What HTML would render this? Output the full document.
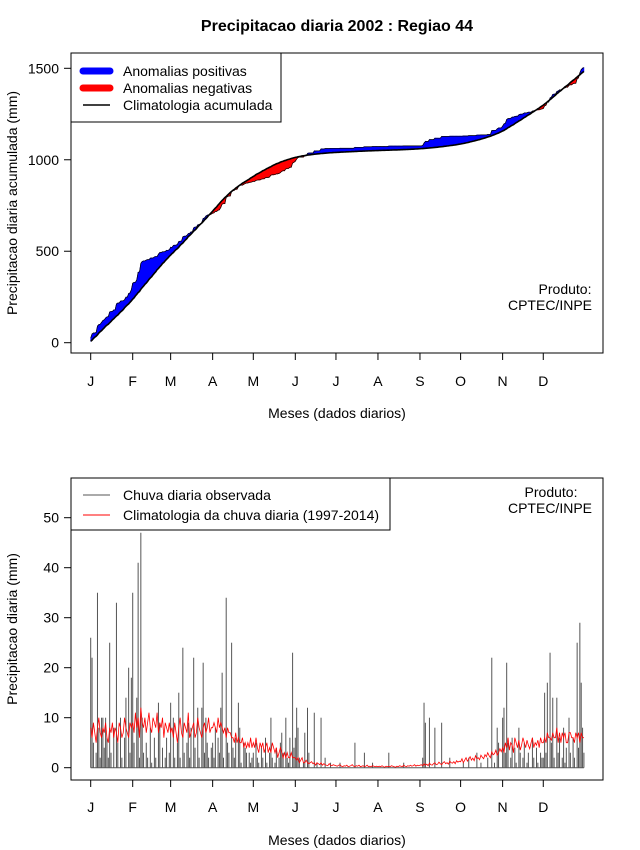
<!DOCTYPE html>
<html><head><meta charset="utf-8"><style>
body{margin:0;background:#fff}
svg{display:block;font-family:"Liberation Sans",sans-serif}
</style></head><body>
<svg id="c" width="640" height="850" viewBox="0 0 640 850" xmlns="http://www.w3.org/2000/svg">
<text x="337" y="31" text-anchor="middle" font-size="16" font-weight="bold">Precipitacao diaria 2002 : Regiao 44</text>
<g id="topPanel"></g>
<g id="botPanel"></g>
</svg>
<script>
const months = ["J","F","M","A","M","J","J","A","S","O","N","D"];
const monthStart = [0,31,59,90,120,151,181,212,243,273,304,334];
const topTicks = [0,500,1000,1500];
const botTicks = [0,10,20,30,40,50];
const obsJan = [26,22,5,0,3,35,8,2,10,10,4,10,6,2,25,3,0,8,0,33,5,0,10,2,0,6,14,0,20,3,18];
const obsFeb = [35,5,0,14,41,2,47,10,3,0,5,2,0,8,1,0,6,2,0,13,9,0,4,0,2,6,0,3];
const obsMar = [13,0,10,2,0,5,15,2,0,24,3,0,5,9,2,8,0,22,4,0,12,2,0,12,21,3,10,5,2,0,4];
const obsApr = [5,2,8,0,6,3,12,19,2,0,34,5,3,0,25,4,2,6,0,13,8,1,0,5,4,3,0,3,1,2];
const obsMay = [3,0,5,2,1,0,4,2,0,6,1,0,3,10,2,0,1,4,0,2,5,7,3,0,10,2,1,6,0,23,4];
const obsJun = [6,12,8,2,0,0,1,7,0,12,3,0,0,0,11,0,1,0,0,10,0,0,2,0,0,0,1,0,0,0];
const obsJul = [0,0,0,1,0,0,0,0,0,0,0,0,0,0,5,0,0,0,0,0,0,3,0,0,0,0,0,1,0,0,0];
const obsAug = [0,0,0,0,0,0,0,0,3,0,0,0,0,0,0,0,0,0,0,1,0,0,0,0,0,0,0,0,0,0,0];
const obsSep = [0,0,2,13,9,0,0,10,0,0,0,8,0,0,0,0,9,0,0,0,0,0,2,0,0,0,0,0,0,0];
const obsOct = [0,0,1,0,0,0,2,0,0,0,0,0,3,0,0,1,0,0,0,0,2,0,0,22,0,1,0,8,5,0,0];
const obsNov = [10,12,3,21,5,0,2,6,0,4,1,0,8,3,0,2,5,0,1,3,0,0,6,2,0,4,1,0,3,2];
const obsDec = [2,15,3,17,0,23,5,14,2,0,14,3,6,0,2,8,1,4,0,10,3,0,6,2,0,25,4,29,17,8,3];
const climJan = [8,6,9,7,5,8,10,7,6,8,7,9,6,5,8,7,9,6,8,7,5,9,8,6,7,10,8,7,6,9,8];
const climFeb = [9,7,11,8,10,6,12,9,8,10,7,9,11,8,7,10,9,8,11,7,9,8,10,6,9,8,7,9];
const climMar = [7,8,6,9,7,5,8,10,7,6,9,8,7,11,6,7,8,9,6,7,10,8,7,6,8,9,7,8,10,7,8];
const climApr = [8,9,8,7,10,8,9,8,7,8,6,8,7,7,6,6,5,7,5,6,5,5,6,4,5,4,5,4,6,4];
const climMay = [5,4,6,4,3,5,4,5,3,4,5,3,4,3,5,4,3,4,2,3,4,3,2,3,2,3,2,2,3,2,2];
const climJun = [2,1.5,2,1,1.5,2,1,1,1.5,1,0.8,1,1.2,0.8,1,0.5,1,0.8,0.6,1,0.5,0.8,0.6,0.5,0.4,0.8,0.5,0.4,0.6,0.5];
const climJul = [0.4,0.3,0.5,0.6,0.3,0.2,0.4,0.3,0.5,0.2,0.3,0.4,0.6,0.3,0.2,0.4,0.3,0.5,0.2,0.3,0.4,0.2,0.3,0.5,0.2,0.3,0.2,0.4,0.3,0.2,0.3];
const climAug = [0.2,0.3,0.2,0.4,0.2,0.1,0.3,0.2,0.3,0.2,0.4,0.3,0.2,0.1,0.3,0.2,0.4,0.3,0.2,0.5,0.3,0.2,0.4,0.3,0.5,0.3,0.4,0.6,0.3,0.5,0.4];
const climSep = [0.5,0.6,0.4,0.8,0.5,0.7,0.4,0.9,0.6,0.5,0.8,1,0.6,0.7,1.1,0.8,0.6,1,1.2,0.8,1,0.7,1.3,1,0.9,1.2,0.8,1.4,1.1,1.3];
const climOct = [1.2,1.8,1,1.5,2,1.3,1.7,2.2,1.5,1.9,1.4,2.4,1.8,2,1.6,2.5,2.1,1.8,2.6,2.2,3,2.4,2,3.2,2.6,2.8,3.5,2.5,3,3.8,3.2];
const climNov = [4,3,5,4,6,3.5,5,4.5,3,6,5,4,5.5,3.5,4.5,6,5,4,5.5,4.5,3.8,5,6,4,5,4.5,5.5,4,6,5];
const climDec = [5,6,5,7,6,6,5.5,7,6,6,8,5,7,5,7,6,7,5,5,7,7,6,6,5,7,6,7,5,7,6,6];

const obs = [].concat(obsJan,obsFeb,obsMar,obsApr,obsMay,obsJun,obsJul,obsAug,obsSep,obsOct,obsNov,obsDec);
const clim = [].concat(climJan,climFeb,climMar,climApr,climMay,climJun,climJul,climAug,climSep,climOct,climNov,climDec);
const NS="http://www.w3.org/2000/svg";
function mk(parent,tag,attrs,text){const e=document.createElementNS(NS,tag);for(const k in attrs)e.setAttribute(k,attrs[k]);if(text!==undefined)e.textContent=text;parent.appendChild(e);return e;}
const xs = d => 90.7 + d*1.355;
const yTop = v => 342.7 - v*(274.4/1500);
const yBot = v => 767.7 - v*5.0;

const cObs=[],cClim=[];let sa=0,sb=0;
for(let i=0;i<obs.length;i++){sa+=obs[i];sb+=clim[i];cObs.push(sa);cClim.push(sb);}

const topG=document.getElementById('topPanel');
for(let i=0;i<cObs.length-1;i++){
  const d1=cObs[i]-cClim[i], d2=cObs[i+1]-cClim[i+1];
  const pos=(d1+d2)>=0;
  const p=mk(topG,'polygon',{points:`${xs(i)},${yTop(cObs[i])} ${xs(i+1)},${yTop(cObs[i+1])} ${xs(i+1)},${yTop(cClim[i+1])} ${xs(i)},${yTop(cClim[i])}`,fill:pos?'#0000ff':'#ff0000',stroke:pos?'#0000ff':'#ff0000','stroke-width':0.6});
  
  
}
const obsLine=mk(topG,'polyline',{points:cObs.map((v,i)=>`${xs(i)},${yTop(v)}`).join(' '),fill:'none',stroke:'#000','stroke-width':0.7});


const climLine=mk(topG,'polyline',{points:cClim.map((v,i)=>`${xs(i)},${yTop(v)}`).join(' '),fill:'none',stroke:'#000','stroke-width':1.6});



function axes(g,yf,ticks,box,ytitle,ticky,xtitleY){
  const fr=mk(g,'rect',{x:box[0],y:box[1],width:box[2]-box[0],height:box[3]-box[1],fill:'none',stroke:'#000','stroke-width':1});
  
  
  ticks.forEach(t=>{
    const y=yf(t);
    mk(g,'line',{x1:box[0]-7,x2:box[0],y1:y,y2:y,stroke:'#000'});
    const tl=mk(g,'text',{x:box[0]-12,y:y+5,'text-anchor':'end','font-size':14},t);
    
    
  });
  mk(g,'line',{x1:box[0],x2:box[0],y1:yf(ticks[0]),y2:yf(ticks[ticks.length-1]),stroke:'#000'});
  monthStart.forEach((d,i)=>{
    const x=xs(d);
    mk(g,'line',{x1:x,x2:x,y1:box[3],y2:box[3]+7,stroke:'#000'});
    const ml=mk(g,'text',{x:x,y:ticky,'text-anchor':'middle','font-size':14},months[i]);
    
    
  });
  mk(g,'line',{x1:xs(0),x2:xs(monthStart[11]),y1:box[3],y2:box[3],stroke:'#000'});
  const xt=mk(g,'text',{x:337,y:xtitleY,'text-anchor':'middle','font-size':14},'Meses (dados diarios)');
  
  
  const cy=(box[1]+box[3])/2;
  const yt=mk(g,'text',{x:17,y:cy,'text-anchor':'middle','font-size':14,transform:`rotate(-90 17 ${cy})`},ytitle);
  
  
}
axes(topG,yTop,topTicks,[71,53,603,353],'Precipitacao diaria acumulada (mm)',386,418);

const lg=mk(topG,'g',{});


mk(lg,'rect',{x:71,y:53,width:210,height:69,fill:'#fff',stroke:'#000'});
mk(lg,'line',{x1:83,x2:110,y1:71,y2:71,stroke:'#0000ff','stroke-width':7,'stroke-linecap':'round'});
mk(lg,'line',{x1:83,x2:110,y1:88,y2:88,stroke:'#ff0000','stroke-width':7,'stroke-linecap':'round'});
mk(lg,'line',{x1:83,x2:110,y1:105,y2:105,stroke:'#000','stroke-width':1.5});
mk(lg,'text',{x:123,y:76,'font-size':14},'Anomalias positivas');
mk(lg,'text',{x:123,y:93,'font-size':14},'Anomalias negativas');
mk(lg,'text',{x:123,y:110,'font-size':14},'Climatologia acumulada');
const pr1=mk(topG,'text',{x:565,y:294,'text-anchor':'middle','font-size':14},'Produto:');


mk(topG,'text',{x:550,y:310,'text-anchor':'middle','font-size':14},'CPTEC/INPE');

const botG=document.getElementById('botPanel');
obs.forEach((v,i)=>{
  if(v<=0)return;
  const l=mk(botG,'line',{x1:xs(i),x2:xs(i),y1:yBot(0),y2:yBot(v),stroke:'#555','stroke-width':1});
  
  
});
const zl=mk(botG,'line',{x1:xs(0),x2:xs(obs.length-1),y1:yBot(0),y2:yBot(0),stroke:'#555','stroke-width':1});


const cl=mk(botG,'polyline',{points:clim.map((v,i)=>`${xs(i)},${yBot(v)}`).join(' '),fill:'none',stroke:'#ff0000','stroke-width':0.8});


axes(botG,yBot,botTicks,[71,478,603,780],'Precipitacao diaria (mm)',812,845);
const lg2=mk(botG,'g',{});


mk(lg2,'rect',{x:71,y:478,width:319,height:52,fill:'#fff',stroke:'#000'});
mk(lg2,'line',{x1:83,x2:110,y1:495,y2:495,stroke:'#555'});
mk(lg2,'line',{x1:83,x2:110,y1:515,y2:515,stroke:'#ff0000'});
mk(lg2,'text',{x:123,y:500,'font-size':14},'Chuva diaria observada');
mk(lg2,'text',{x:123,y:520,'font-size':14},'Climatologia da chuva diaria (1997-2014)');
mk(botG,'text',{x:551,y:497,'text-anchor':'middle','font-size':14},'Produto:');
mk(botG,'text',{x:550,y:513,'text-anchor':'middle','font-size':14},'CPTEC/INPE');
</script>
</body></html>
